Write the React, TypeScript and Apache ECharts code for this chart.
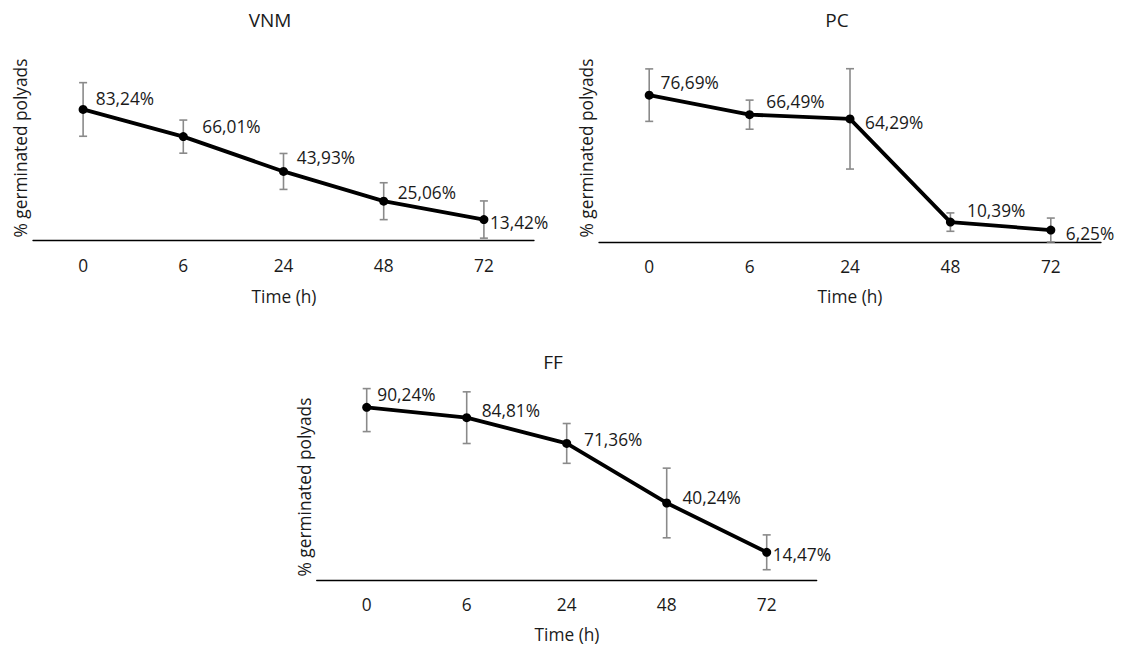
import React, { useEffect, useRef } from "react";
import * as echarts from "echarts";

const categories = ["0", "6", "24", "48", "72"];

const vnmValues = [83.24, 66.01, 43.93, 25.06, 13.42];
const vnmErrors = [17, 10.5, 11.4, 11.7, 11.8];

const pcValues = [76.69, 66.49, 64.29, 10.39, 6.25];
const pcErrors = [13.7, 7.6, 26.2, 4.8, 6.25];

const ffValues = [90.24, 84.81, 71.36, 40.24, 14.47];
const ffErrors = [12.7, 13.5, 10.4, 18.2, 9.1];

const titles = ["VNM", "PC", "FF"];
const yAxisTitle = "% germinated polyads";
const xAxisTitle = "Time (h)";

// layout (pixels) for the three panels
const panels = [
  { values: vnmValues, errors: vnmErrors, left: 33, top: 51.5, width: 501, height: 189.2, max: 120,
    title: [270, 20], yName: [20, 148], xName: [284, 296],
    offsets: [[8.2, -10.7], [14.5, -9.7], [8.8, -13.7], [9.5, -9], [1.5, 3]] },
  { values: pcValues, errors: pcErrors, left: 599, top: 50.5, width: 502, height: 191.5, max: 100,
    title: [837, 20], yName: [586, 148], xName: [850, 296],
    offsets: [[6.9, -12.7], [12.2, -13.3], [10.5, 3.4], [12.2, -11.6], [10.5, 3.4]] },
  { values: ffValues, errors: ffErrors, left: 316.7, top: 388.6, width: 500, height: 191.4, max: 100,
    title: [553, 362], yName: [304, 487], xName: [567, 634.5],
    offsets: [[6.1, -12.3], [10.5, -7.3], [12.9, -4.4], [11.2, -5], [1.5, 1.7]] },
];

const FONT = "'Open Sans', sans-serif";
const FS = 17.3;
const TEXT = "#1a1a1a";

export default function App() {
  const ref = useRef<HTMLDivElement>(null);
  useEffect(() => {
    if (!ref.current) return;
    const chart = echarts.init(ref.current, null, { renderer: "svg" });
    const grids: any[] = [];
    const xAxes: any[] = [];
    const yAxes: any[] = [];
    const series: any[] = [];
    const graphics: any[] = [];

    panels.forEach((p, i) => {
      grids.push({ left: p.left, top: p.top, width: p.width, height: p.height, containLabel: false });
      xAxes.push({
        type: "category",
        gridIndex: i,
        data: categories,
        boundaryGap: true,
        axisLine: { show: true, lineStyle: { color: "#000", width: 1.3 } },
        axisTick: { show: false },
        axisLabel: { margin: 16, fontSize: FS, fontFamily: FONT, color: TEXT },
        splitLine: { show: false },
      });
      yAxes.push({
        type: "value",
        gridIndex: i,
        min: 0,
        max: p.max,
        show: false,
        splitLine: { show: false },
      });
      const errData = p.values.map((v, k) => [
        k,
        Math.max(0, v - p.errors[k]),
        Math.min(p.max, v + p.errors[k]),
      ]);
      series.push({
        type: "custom",
        xAxisIndex: i,
        yAxisIndex: i,
        z: 1,
        data: errData,
        encode: { x: 0, y: [1, 2] },
        renderItem: (params: any, api: any) => {
          const lo = api.coord([api.value(0), api.value(1)]);
          const hi = api.coord([api.value(0), api.value(2)]);
          const cw = 4;
          const style = { stroke: "#8a8a8a", lineWidth: 1.6 };
          return {
            type: "group",
            children: [
              { type: "line", shape: { x1: lo[0], y1: lo[1], x2: hi[0], y2: hi[1] }, style },
              { type: "line", shape: { x1: lo[0] - cw, y1: lo[1], x2: lo[0] + cw, y2: lo[1] }, style },
              { type: "line", shape: { x1: hi[0] - cw, y1: hi[1], x2: hi[0] + cw, y2: hi[1] }, style },
            ],
          };
        },
      });
      series.push({
        type: "line",
        xAxisIndex: i,
        yAxisIndex: i,
        z: 3,
        data: p.values.map((v, k) => ({
          value: v,
          label: { offset: p.offsets[k] },
        })),
        symbol: "circle",
        symbolSize: 9,
        itemStyle: { color: "#000" },
        lineStyle: { color: "#000", width: 3.8 },
        label: {
          show: true,
          position: "right",
          distance: 0,
          fontSize: FS,
          fontFamily: FONT,
          color: TEXT,
          formatter: (d: any) => d.value.toFixed(2).replace(".", ",") + "%",
        },
      });
      graphics.push({
        type: "text",
        x: p.title[0],
        y: p.title[1],
        style: { text: titles[i], font: `19px ${FONT}`, fill: TEXT, textAlign: "center", textVerticalAlign: "middle" },
      });
      graphics.push({
        type: "text",
        x: p.yName[0],
        y: p.yName[1],
        rotation: Math.PI / 2,
        style: { text: yAxisTitle, font: `${FS}px ${FONT}`, fill: TEXT, textAlign: "center", textVerticalAlign: "middle" },
      });
      graphics.push({
        type: "text",
        x: p.xName[0],
        y: p.xName[1],
        style: { text: xAxisTitle, font: `${FS}px ${FONT}`, fill: TEXT, textAlign: "center", textVerticalAlign: "middle" },
      });
    });

    chart.setOption({
      animation: false,
      backgroundColor: "#fff",
      grid: grids,
      xAxis: xAxes,
      yAxis: yAxes,
      series,
      graphic: graphics,
    });
    return () => chart.dispose();
  }, []);
  return (
    <div
      ref={ref}
      style={{ position: "fixed", left: 0, top: 0, width: 1122, height: 650, background: "#fff" }}
    />
  );
}
